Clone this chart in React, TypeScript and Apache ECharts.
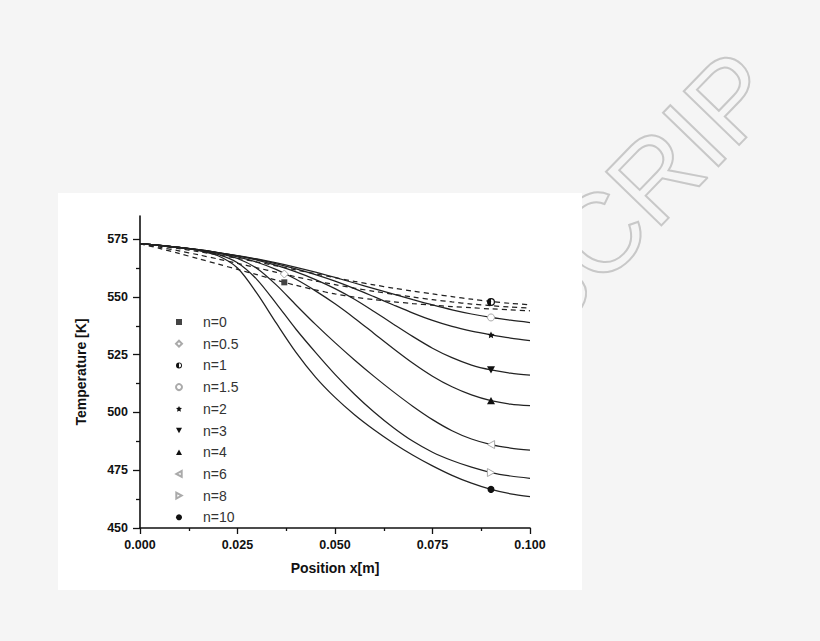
import { useEffect, useRef } from "react";
import * as echarts from "echarts";

// ─── Data ─────────────────────────────────────────────────────────
const X_POS = [
  0, 0.005, 0.01, 0.015, 0.02, 0.025, 0.03, 0.035, 0.04, 0.045, 0.05,
  0.055, 0.06, 0.065, 0.07, 0.075, 0.08, 0.085, 0.09, 0.095, 0.1,
];

const N_LABELS = ["n=0", "n=0.5", "n=1", "n=1.5", "n=2", "n=3", "n=4", "n=6", "n=8", "n=10"];

const T_N0 = [573, 571, 568.8, 566.5, 564.2, 561.9, 559.6, 557.2, 555, 553, 551.3, 549.9, 548.8, 547.9, 547.1, 546.4, 545.8, 545.3, 544.8, 544.4, 544];
const T_N05 = [573, 571.5, 569.9, 568.2, 566.4, 564.5, 562.6, 560.6, 558.7, 556.9, 555.3, 553.8, 552.4, 551.1, 549.9, 548.8, 547.8, 546.9, 546.2, 545.6, 545.2];
const T_N1 = [573, 572, 570.9, 569.6, 568.2, 566.7, 565.1, 563.4, 561.7, 560, 558.3, 556.7, 555.2, 553.8, 552.5, 551.3, 550.1, 549, 548, 547.2, 546.6];
const T_N15 = [573, 572.3, 571.4, 570.4, 569.2, 567.9, 566.4, 564.7, 562.8, 560.7, 558.4, 556, 553.6, 551.2, 548.8, 546.5, 544.4, 542.6, 541.1, 539.9, 538.9];
const T_N2 = [573, 572.3, 571.4, 570.4, 569.2, 567.8, 566.2, 564.3, 562.1, 559.6, 556.8, 553.6, 550.1, 546.5, 543, 539.8, 537.2, 535.2, 533.6, 532.2, 531.1];
const T_N3 = [573, 572.3, 571.4, 570.3, 569.1, 567.7, 565.9, 563.6, 560.8, 557.5, 553.6, 549, 543.7, 538.2, 532.8, 527.8, 523.7, 520.5, 518.4, 517, 516.1];
const T_N4 = [573, 572.3, 571.4, 570.3, 569, 567.3, 565, 561.8, 557.6, 552.6, 547, 540.8, 534.2, 527.6, 521.3, 515.7, 511.1, 507.6, 505.1, 503.6, 502.9];
const T_N6 = [573, 572.3, 571.4, 570.3, 568.9, 566.6, 562.3, 555.1, 546.5, 538.1, 530.2, 522.7, 515.6, 508.9, 502.6, 496.9, 492.1, 488.5, 486.1, 484.6, 483.7];
const T_N8 = [573, 572.3, 571.4, 570.2, 568.4, 564.8, 557.5, 547, 536, 526, 516.5, 507.9, 500.2, 493.4, 487.5, 482.8, 479.2, 476.3, 474, 472.5, 471.5];
const T_N10 = [573, 572.3, 571.4, 570.1, 567.8, 562.5, 551.5, 538.5, 526, 515.3, 506.5, 499, 492.5, 486.7, 481.5, 476.9, 472.8, 469.4, 466.7, 464.8, 463.6];

const CURVES = [T_N0, T_N05, T_N1, T_N15, T_N2, T_N3, T_N4, T_N6, T_N8, T_N10];

// one marker per curve
const MARK_X = [0.037, 0.037, 0.09, 0.09, 0.09, 0.09, 0.09, 0.09, 0.09, 0.09];
const MARK_T = [556.3, 559.9, 547.8, 541.1, 533.6, 518.4, 505.1, 486.1, 474, 466.7];

const Y_MAJOR = [450, 475, 500, 525, 550, 575];
const Y_MINOR = [462.5, 487.5, 512.5, 537.5, 562.5];

// ─── Styles ───────────────────────────────────────────────────────
const FONT = '"Liberation Sans", Arial, Helvetica, sans-serif';
const INK = "#111";
const STAR =
  "path://M0,-10L2.9,-4L9.5,-3.1L4.7,1.5L5.9,8.1L0,5L-5.9,8.1L-4.7,1.5L-9.5,-3.1L-2.9,-4Z";
const HALF_CIRCLE =
  "path://M0,-10A10,10,0,1,1,0,10A10,10,0,1,1,0,-10ZM0,-7L0,7A7,7,0,0,0,0,-7Z";
const TRI_DOWN = "path://M-10,-9L10,-9L0,9Z";
const TRI_UP = "path://M0,-9L10,9L-10,9Z";
const TRI_LEFT = "path://M9,-10L9,10L-9,0Z";
const TRI_RIGHT = "path://M-9,-10L-9,10L9,0Z";

const MARKERS = [
  { symbol: "rect", size: 6, color: "#444", border: "#333", bw: 0 },
  { symbol: "diamond", size: 8, color: "#fff", border: "#aaa", bw: 1 },
  { symbol: HALF_CIRCLE, size: 8, color: "#111", border: "#111", bw: 0 },
  { symbol: "circle", size: 7, color: "#fff", border: "#aaa", bw: 1 },
  { symbol: STAR, size: 7, color: "#111", border: "#111", bw: 0 },
  { symbol: TRI_DOWN, size: 8, color: "#111", border: "#111", bw: 0 },
  { symbol: TRI_UP, size: 8, color: "#111", border: "#111", bw: 0 },
  { symbol: TRI_LEFT, size: 8, color: "#fff", border: "#aaa", bw: 1 },
  { symbol: TRI_RIGHT, size: 8, color: "#fff", border: "#aaa", bw: 1 },
  { symbol: "circle", size: 7, color: "#111", border: "#111", bw: 0 },
];
const DASHED = [true, true, true, false, false, false, false, false, false, false];

export default function App() {
  const ref = useRef<HTMLDivElement>(null);

  useEffect(() => {
    if (!ref.current) return;
    const chart = echarts.init(ref.current, undefined, { renderer: "svg" });

    const lineSeries = CURVES.map((vals, i) => ({
      type: "line",
      name: "curve " + N_LABELS[i],
      data: X_POS.map((x, j) => [x, vals[j]]),
      showSymbol: false,
      symbol: "none",
      smooth: 0.3,
      silent: true,
      z: 2,
      lineStyle: { color: "#222", width: 1.25, type: DASHED[i] ? [5, 4] : "solid" },
    }));

    const markSeries = N_LABELS.map((name, i) => ({
      type: "scatter",
      name,
      data: [[MARK_X[i], MARK_T[i]]],
      symbol: MARKERS[i].symbol,
      symbolSize: MARKERS[i].size,
      symbolKeepAspect: true,
      z: 3,
      itemStyle: {
        color: MARKERS[i].color,
        borderColor: MARKERS[i].border,
        borderWidth: MARKERS[i].bw,
        opacity: 1,
      },
    }));

    chart.setOption({
      animation: false,
      backgroundColor: "#f5f5f5",
      textStyle: { fontFamily: FONT },
      graphic: [
        {
          type: "text",
          x: 757,
          y: 71,
          rotation: (46 * Math.PI) / 180,
          z: -20,
          silent: true,
          style: {
            text: "MANUSCRIP",
            fontSize: 112,
            fontFamily: FONT,
            fill: "none",
            stroke: "#c8c8c8",
            lineWidth: 2,
            align: "right",
            verticalAlign: "middle",
          },
        },
        {
          type: "rect",
          z: -10,
          silent: true,
          shape: { x: 58, y: 193, width: 524, height: 397 },
          style: { fill: "#ffffff" },
        },
      ],
      grid: { left: 140, right: 290, top: 216, bottom: 113, containLabel: false },
      legend: {
        data: N_LABELS.map((name, i) => ({ name, icon: MARKERS[i].symbol })),
        orient: "vertical",
        left: 170,
        top: 309,
        itemWidth: 6,
        itemHeight: 6,
        itemGap: 5.7,
        selectedMode: false,
        textStyle: {
          fontSize: 14,
          color: "#333",
          fontFamily: FONT,
          lineHeight: 16,
          padding: [0, 0, 0, 16],
        },
      },
      xAxis: {
        type: "value",
        min: 0,
        max: 0.1,
        interval: 0.025,
        name: "Position x[m]",
        nameLocation: "middle",
        nameGap: 33,
        nameTextStyle: { fontSize: 14, fontWeight: "bold", color: INK, fontFamily: FONT },
        axisLine: { show: true, onZero: false, lineStyle: { color: INK, width: 1.6 } },
        axisTick: { show: true, inside: false, length: 6, lineStyle: { color: INK, width: 1.3 } },
        minorTick: { show: true, splitNumber: 2, length: 3, lineStyle: { color: INK, width: 1.3 } },
        axisLabel: {
          margin: 10,
          fontSize: 12.5,
          fontWeight: "bold",
          color: INK,
          fontFamily: FONT,
          formatter: (v: number) => v.toFixed(3),
        },
        splitLine: { show: false },
      },
      yAxis: [
        {
          type: "value",
          min: 450,
          max: 585,
          name: "Temperature [K]",
          nameLocation: "middle",
          nameGap: 52,
          nameTextStyle: { fontSize: 14, fontWeight: "bold", color: INK, fontFamily: FONT },
          axisLine: { show: true, onZero: false, lineStyle: { color: INK, width: 1.6 } },
          axisTick: {
            show: true,
            inside: false,
            length: 7,
            customValues: Y_MAJOR,
            lineStyle: { color: INK, width: 1.3 },
          },
          axisLabel: {
            margin: 12,
            fontSize: 12.5,
            fontWeight: "bold",
            color: INK,
            fontFamily: FONT,
            customValues: Y_MAJOR,
          },
          splitLine: { show: false },
        },
        {
          type: "value",
          min: 450,
          max: 585,
          position: "left",
          offset: 0,
          axisLine: { show: false },
          axisLabel: { show: false },
          axisTick: {
            show: true,
            inside: false,
            length: 4,
            customValues: Y_MINOR,
            lineStyle: { color: INK, width: 1.3 },
          },
          splitLine: { show: false },
        },
      ],
      series: [...lineSeries, ...markSeries],
    });

    return () => chart.dispose();
  }, []);

  return (
    <div
      ref={ref}
      style={{ position: "absolute", left: 0, top: 0, width: 820, height: 641 }}
    />
  );
}
